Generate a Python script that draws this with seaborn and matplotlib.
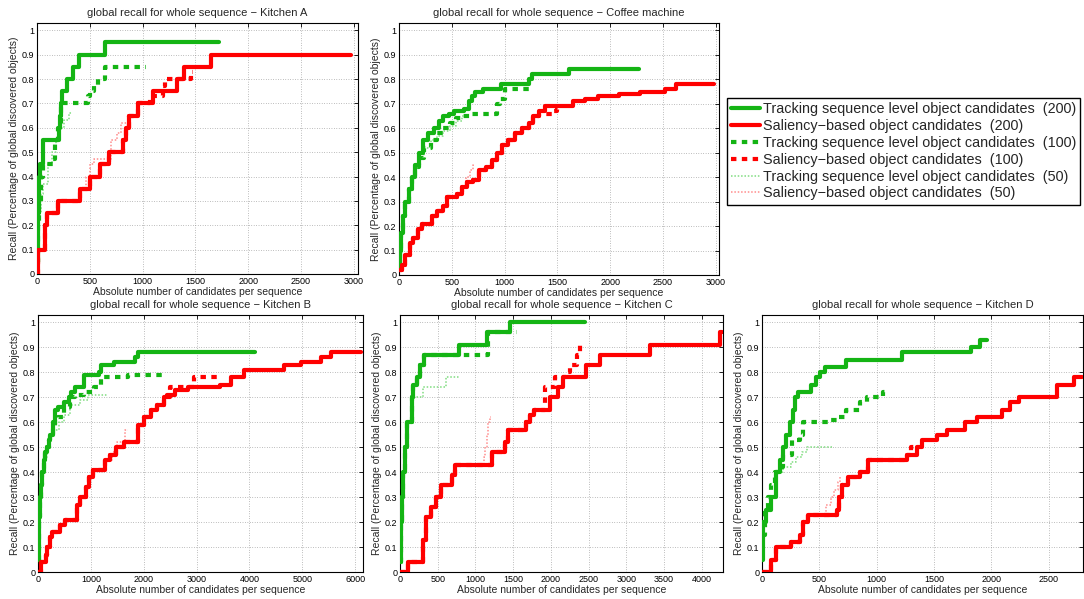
import matplotlib
matplotlib.use("Agg")
import matplotlib.pyplot as plt
import seaborn as sns
from matplotlib.ticker import FormatStrFormatter

# ---- Kitchen A ----
ka_trk200_x = [0, 5, 10, 15, 20, 30, 60, 205, 215, 225, 240, 280, 340, 400, 640, 1720]
ka_trk200_y = [0.05, 0.15, 0.25, 0.3, 0.4, 0.45, 0.55, 0.6, 0.65, 0.7, 0.75, 0.8, 0.85, 0.9, 0.95, 0.95]
ka_sal200_x = [0, 10, 80, 90, 200, 410, 500, 600, 680, 810, 840, 870, 960, 1100, 1330, 1390, 1650, 2970]
ka_sal200_y = [0, 0.1, 0.2, 0.25, 0.3, 0.35, 0.4, 0.45, 0.5, 0.55, 0.6, 0.65, 0.7, 0.75, 0.8, 0.85, 0.9, 0.9]
ka_trk100_x = [0, 5, 10, 20, 40, 60, 150, 170, 200, 230, 480, 500, 540, 580, 640, 1030]
ka_trk100_y = [0.05, 0.1, 0.2, 0.3, 0.4, 0.45, 0.47, 0.55, 0.6, 0.7, 0.73, 0.75, 0.77, 0.8, 0.85, 0.85]
ka_sal100_x = [0, 10, 80, 90, 200, 410, 500, 600, 680, 810, 840, 870, 960, 1070, 1190, 1210, 1460, 1480]
ka_sal100_y = [0, 0.1, 0.2, 0.25, 0.3, 0.35, 0.4, 0.45, 0.5, 0.55, 0.6, 0.65, 0.7, 0.73, 0.77, 0.8, 0.83, 0.83]
ka_trk50_x = [0, 10, 20, 40, 60, 100, 140, 180, 220, 260, 300, 330]
ka_trk50_y = [0.05, 0.15, 0.25, 0.33, 0.37, 0.45, 0.5, 0.55, 0.6, 0.63, 0.66, 0.66]
ka_sal50_x = [0, 10, 80, 90, 200, 400, 460, 500, 540, 700, 760, 800, 840]
ka_sal50_y = [0, 0.1, 0.2, 0.25, 0.3, 0.35, 0.4, 0.45, 0.47, 0.55, 0.58, 0.62, 0.62]

# ---- Coffee machine ----
cm_trk200_x = [0, 10, 20, 40, 60, 90, 120, 150, 190, 230, 270, 330, 380, 420, 470, 520, 620,
               660, 690, 720, 800, 970, 1230, 1260, 1610, 2270]
cm_trk200_y = [0.03, 0.1, 0.17, 0.24, 0.3, 0.35, 0.4, 0.45, 0.5, 0.55, 0.58, 0.6, 0.63, 0.65, 0.66,
               0.67, 0.68, 0.71, 0.73, 0.75, 0.76, 0.78, 0.8, 0.82, 0.84, 0.84]
cm_sal200_x = [0, 30, 60, 100, 130, 180, 220, 310, 360, 420, 450, 550, 600, 640, 700, 760, 820, 880,
               930, 980, 1030, 1100, 1160, 1230, 1270, 1330, 1380, 1650, 1760, 1880, 2080, 2280,
               2520, 2620, 2980]
cm_sal200_y = [0.02, 0.04, 0.08, 0.13, 0.15, 0.19, 0.21, 0.24, 0.26, 0.28, 0.32, 0.33, 0.36, 0.38,
               0.39, 0.43, 0.44, 0.47, 0.5, 0.53, 0.55, 0.58, 0.6, 0.62, 0.65, 0.67, 0.69, 0.71,
               0.72, 0.73, 0.74, 0.75, 0.76, 0.78, 0.78]
cm_trk100_x = [0, 10, 20, 40, 60, 90, 120, 150, 190, 240, 300, 360, 420, 480, 540, 600, 680, 930,
               960, 1000, 1250]
cm_trk100_y = [0.03, 0.1, 0.17, 0.24, 0.3, 0.35, 0.4, 0.44, 0.48, 0.52, 0.55, 0.58, 0.6, 0.62,
               0.64, 0.65, 0.66, 0.7, 0.72, 0.76, 0.76]
cm_sal100_x = [0, 30, 60, 100, 130, 180, 220, 310, 360, 420, 450, 550, 600, 640, 700, 760, 820, 880,
               930, 980, 1030, 1100, 1160, 1230, 1270, 1330, 1450, 1500, 1520]
cm_sal100_y = [0.02, 0.04, 0.08, 0.13, 0.15, 0.19, 0.21, 0.24, 0.26, 0.28, 0.32, 0.33, 0.36, 0.38,
               0.39, 0.43, 0.44, 0.47, 0.5, 0.53, 0.55, 0.58, 0.6, 0.62, 0.65, 0.66, 0.67, 0.68, 0.68]
cm_trk50_x = [0, 10, 20, 40, 60, 90, 120, 150, 190, 240, 300, 360, 420, 480, 540, 600, 650]
cm_trk50_y = [0.03, 0.1, 0.17, 0.24, 0.3, 0.35, 0.4, 0.44, 0.48, 0.52, 0.55, 0.57, 0.59, 0.61,
              0.63, 0.65, 0.65]
cm_sal50_x = [0, 30, 60, 100, 130, 180, 220, 310, 360, 420, 450, 550, 600, 630, 670, 700, 720]
cm_sal50_y = [0.02, 0.04, 0.08, 0.13, 0.15, 0.19, 0.21, 0.24, 0.26, 0.28, 0.32, 0.33, 0.36, 0.4,
              0.43, 0.45, 0.45]

# ---- Kitchen B ----
kb_trk200_x = [0, 10, 20, 40, 60, 80, 110, 140, 170, 200, 230, 280, 330, 370, 500, 580, 620, 700,
               870, 1150, 1190, 1440, 1840, 1900, 4100]
kb_trk200_y = [0.05, 0.15, 0.22, 0.3, 0.35, 0.4, 0.45, 0.48, 0.5, 0.53, 0.55, 0.6, 0.65, 0.66,
               0.68, 0.7, 0.72, 0.74, 0.79, 0.8, 0.83, 0.84, 0.86, 0.88, 0.88]
kb_sal200_x = [0, 50, 150, 170, 220, 265, 420, 520, 740, 800, 900, 960, 1050, 1270, 1370, 1470,
               1620, 1890, 2000, 2130, 2250, 2380, 2440, 2600, 2830, 3450, 3650, 3900, 4650, 4970,
               5350, 5540, 6110]
kb_sal200_y = [0, 0.04, 0.07, 0.1, 0.14, 0.16, 0.19, 0.21, 0.27, 0.3, 0.34, 0.38, 0.41, 0.45, 0.47,
               0.5, 0.52, 0.59, 0.62, 0.65, 0.67, 0.7, 0.71, 0.73, 0.74, 0.75, 0.78, 0.81, 0.83,
               0.84, 0.86, 0.88, 0.88]
kb_trk100_x = [0, 10, 20, 40, 60, 80, 110, 140, 170, 200, 230, 280, 330, 380, 500, 600, 700, 870,
               1060, 1195, 1700, 2350]
kb_trk100_y = [0.05, 0.15, 0.22, 0.3, 0.35, 0.4, 0.45, 0.48, 0.5, 0.53, 0.55, 0.58, 0.6, 0.62,
               0.66, 0.7, 0.71, 0.72, 0.74, 0.78, 0.79, 0.79]
kb_sal100_x = [0, 50, 150, 170, 220, 265, 420, 520, 740, 800, 900, 960, 1050, 1270, 1370, 1470,
               1620, 1890, 2000, 2130, 2250, 2380, 2500, 2950, 3400]
kb_sal100_y = [0, 0.04, 0.07, 0.1, 0.14, 0.16, 0.19, 0.21, 0.27, 0.3, 0.34, 0.38, 0.41, 0.45, 0.47,
               0.5, 0.52, 0.59, 0.62, 0.65, 0.67, 0.7, 0.74, 0.78, 0.78]
kb_trk50_x = [0, 10, 20, 40, 60, 80, 110, 140, 170, 200, 250, 300, 400, 500, 600, 800, 940, 1300]
kb_trk50_y = [0.05, 0.15, 0.22, 0.3, 0.35, 0.4, 0.43, 0.46, 0.5, 0.53, 0.55, 0.57, 0.6, 0.63, 0.67,
              0.69, 0.71, 0.71]
kb_sal50_x = [0, 50, 150, 170, 220, 265, 420, 520, 740, 800, 900, 960, 1050, 1270, 1400, 1500,
              1650, 1700]
kb_sal50_y = [0, 0.04, 0.07, 0.1, 0.14, 0.16, 0.19, 0.21, 0.27, 0.3, 0.34, 0.38, 0.41, 0.45, 0.48,
              0.52, 0.57, 0.57]

# ---- Kitchen C ----
kc_trk200_x = [0, 10, 22, 45, 66, 97, 154, 176, 220, 265, 318, 780, 1150, 1455, 2450]
kc_trk200_y = [0.04, 0.2, 0.3, 0.4, 0.5, 0.6, 0.7, 0.75, 0.78, 0.83, 0.87, 0.91, 0.96, 1.0, 1.0]
kc_sal200_x = [0, 110, 300, 350, 410, 476, 542, 684, 728, 1213, 1390, 1430, 1670, 1720, 1780,
               1990, 2100, 2160, 2470, 2646, 3307, 4240, 4270]
kc_sal200_y = [0, 0.04, 0.13, 0.22, 0.26, 0.3, 0.35, 0.39, 0.43, 0.48, 0.52, 0.57, 0.6, 0.63, 0.65,
               0.7, 0.74, 0.78, 0.83, 0.87, 0.91, 0.96, 0.96]
kc_trk100_x = [0, 10, 22, 45, 66, 97, 154, 176, 220, 265, 318, 1160, 1550]
kc_trk100_y = [0.04, 0.2, 0.3, 0.4, 0.5, 0.6, 0.7, 0.75, 0.78, 0.83, 0.87, 0.96, 0.96]
kc_sal100_x = [0, 110, 300, 350, 410, 476, 542, 684, 728, 1213, 1390, 1430, 1670, 1720, 1780,
               1920, 2050, 2200, 2250, 2340, 2380, 2400]
kc_sal100_y = [0, 0.04, 0.13, 0.22, 0.26, 0.3, 0.35, 0.39, 0.43, 0.48, 0.52, 0.57, 0.6, 0.63, 0.65,
               0.74, 0.78, 0.8, 0.83, 0.87, 0.91, 0.91]
kc_trk50_x = [0, 10, 22, 45, 66, 97, 150, 310, 610, 780]
kc_trk50_y = [0.04, 0.2, 0.3, 0.4, 0.5, 0.6, 0.7, 0.74, 0.78, 0.78]
kc_sal50_x = [0, 110, 300, 350, 410, 476, 542, 684, 728, 1110, 1130, 1150, 1170, 1190, 1200]
kc_sal50_y = [0, 0.04, 0.13, 0.22, 0.26, 0.3, 0.35, 0.39, 0.43, 0.46, 0.5, 0.55, 0.6, 0.62, 0.62]

# ---- Kitchen D ----
kd_trk200_x = [0, 9, 38, 80, 126, 155, 184, 213, 242, 271, 286, 315, 431, 475, 504, 548, 737,
               1220, 1820, 1900, 1960]
kd_trk200_y = [0.05, 0.2, 0.25, 0.3, 0.4, 0.45, 0.5, 0.55, 0.6, 0.65, 0.7, 0.72, 0.75, 0.78, 0.8,
               0.82, 0.85, 0.88, 0.9, 0.93, 0.93]
kd_sal200_x = [0, 67, 82, 126, 257, 330, 359, 402, 650, 670, 700, 749, 854, 924, 1262, 1350, 1393,
               1524, 1612, 1772, 1874, 2093, 2165, 2238, 2573, 2719, 2792]
kd_sal200_y = [0, 0, 0.05, 0.1, 0.12, 0.15, 0.2, 0.23, 0.25, 0.3, 0.35, 0.38, 0.4, 0.45, 0.47,
               0.5, 0.53, 0.55, 0.57, 0.6, 0.62, 0.65, 0.68, 0.7, 0.75, 0.78, 0.78]
kd_trk100_x = [0, 23, 52, 80, 111, 150, 184, 260, 330, 359, 600, 650, 737, 854, 912, 1058, 1110]
kd_trk100_y = [0.15, 0.25, 0.3, 0.35, 0.4, 0.42, 0.47, 0.53, 0.55, 0.6, 0.61, 0.62, 0.65, 0.68,
               0.7, 0.72, 0.72]
kd_sal100_x = [0, 67, 82, 126, 257, 330, 359, 402, 650, 670, 700, 749, 854, 924, 1262, 1300, 1330]
kd_sal100_y = [0, 0, 0.05, 0.1, 0.12, 0.15, 0.2, 0.23, 0.25, 0.3, 0.35, 0.38, 0.4, 0.45, 0.47,
               0.5, 0.5]
kd_trk50_x = [0, 9, 38, 80, 126, 180, 250, 300, 350, 390, 610]
kd_trk50_y = [0.05, 0.2, 0.25, 0.3, 0.4, 0.42, 0.44, 0.46, 0.48, 0.5, 0.5]
kd_sal50_x = [0, 67, 82, 126, 257, 330, 359, 402, 560, 600, 630, 660, 680, 690]
kd_sal50_y = [0, 0, 0.05, 0.1, 0.12, 0.15, 0.2, 0.23, 0.27, 0.3, 0.33, 0.36, 0.38, 0.38]

labels = ["Tracking sequence level object candidates  (200)",
          "Saliency\u2212based object candidates  (200)",
          "Tracking sequence level object candidates  (100)",
          "Saliency\u2212based object candidates  (100)",
          "Tracking sequence level object candidates  (50)",
          "Saliency\u2212based object candidates  (50)"]

GREEN = "#14b414"
RED = "#ff0000"
styles = [dict(color=GREEN, lw=3.0, linestyle="-", zorder=4),
          dict(color=RED, lw=3.0, linestyle="-", zorder=4),
          dict(color=GREEN, lw=3.0, linestyle=(0, (1.3, 1.3)), zorder=3),
          dict(color=RED, lw=3.0, linestyle=(0, (1.3, 1.3)), zorder=3),
          dict(color="#80dc80", lw=1.1, linestyle=(0, (1, 1.2)), zorder=2),
          dict(color="#ff8c8c", lw=1.1, linestyle=(0, (1, 1.2)), zorder=2)]

sns.set_theme(style="white")
plt.rcParams["font.family"] = ["Liberation Sans", "DejaVu Sans"]

W, H = 1084, 599
fig = plt.figure(figsize=(W / 100, H / 100), dpi=100)

panels = [
    ("Kitchen A", (37, 23, 321, 251), 3040, range(0, 3001, 500),
     [(ka_trk200_x, ka_trk200_y), (ka_sal200_x, ka_sal200_y), (ka_trk100_x, ka_trk100_y),
      (ka_sal100_x, ka_sal100_y), (ka_trk50_x, ka_trk50_y), (ka_sal50_x, ka_sal50_y)]),
    ("Coffee machine", (399, 23, 320, 252), 3030, range(0, 3001, 500),
     [(cm_trk200_x, cm_trk200_y), (cm_sal200_x, cm_sal200_y), (cm_trk100_x, cm_trk100_y),
      (cm_sal100_x, cm_sal100_y), (cm_trk50_x, cm_trk50_y), (cm_sal50_x, cm_sal50_y)]),
    ("Kitchen B", (38, 315, 325, 257), 6150, range(0, 6001, 1000),
     [(kb_trk200_x, kb_trk200_y), (kb_sal200_x, kb_sal200_y), (kb_trk100_x, kb_trk100_y),
      (kb_sal100_x, kb_sal100_y), (kb_trk50_x, kb_trk50_y), (kb_sal50_x, kb_sal50_y)]),
    ("Kitchen C", (400, 315, 323, 257), 4280, range(0, 4001, 500),
     [(kc_trk200_x, kc_trk200_y), (kc_sal200_x, kc_sal200_y), (kc_trk100_x, kc_trk100_y),
      (kc_sal100_x, kc_sal100_y), (kc_trk50_x, kc_trk50_y), (kc_sal50_x, kc_sal50_y)]),
    ("Kitchen D", (762, 315, 321, 257), 2800, range(0, 2501, 500),
     [(kd_trk200_x, kd_trk200_y), (kd_sal200_x, kd_sal200_y), (kd_trk100_x, kd_trk100_y),
      (kd_sal100_x, kd_sal100_y), (kd_trk50_x, kd_trk50_y), (kd_sal50_x, kd_sal50_y)]),
]

handles = None
for name, (l, t, w, h), xmax, xticks, series in panels:
    ax = fig.add_axes([l / W, 1 - (t + h) / H, w / W, h / H])
    for (xs, ys), lab, st in zip(series, labels, styles):
        sns.lineplot(x=xs, y=ys, ax=ax, estimator=None, sort=False,
                     drawstyle="steps-post", label=lab, **st)
    if ax.get_legend() is not None:
        ax.get_legend().remove()
    if handles is None:
        handles = ax.get_lines()[:6]
    ax.set_xlim(0, xmax)
    ax.set_ylim(0, 1.03)
    ax.set_xticks(list(xticks))
    ax.set_yticks([i / 10 for i in range(11)])
    ax.yaxis.set_major_formatter(FormatStrFormatter("%g"))
    ax.grid(True, linestyle=(0, (1, 2.5)), color="0.5", lw=0.5)
    ax.tick_params(direction="in", top=True, right=True, length=3, width=0.6,
                   labelsize=6.5, pad=2, colors="black")
    for sp in ax.spines.values():
        sp.set_color("black")
        sp.set_linewidth(0.8)
    ax.set_title("global recall for whole sequence \u2212 " + name, fontsize=8, pad=5)
    ax.set_xlabel("Absolute number of candidates per sequence", fontsize=7.5, labelpad=1)
    ax.set_ylabel("Recall (Percentage of global discovered objects)", fontsize=7.5, labelpad=2)

fig.legend(handles, labels, loc="upper left", bbox_to_anchor=(727 / W, 1 - 98 / H),
           frameon=True, fancybox=False, edgecolor="black", fontsize=10.4,
           handlelength=2.0, handletextpad=0.2, borderpad=0.28, labelspacing=0.2,
           borderaxespad=0, framealpha=1)

fig.savefig("out.png", dpi=100)
